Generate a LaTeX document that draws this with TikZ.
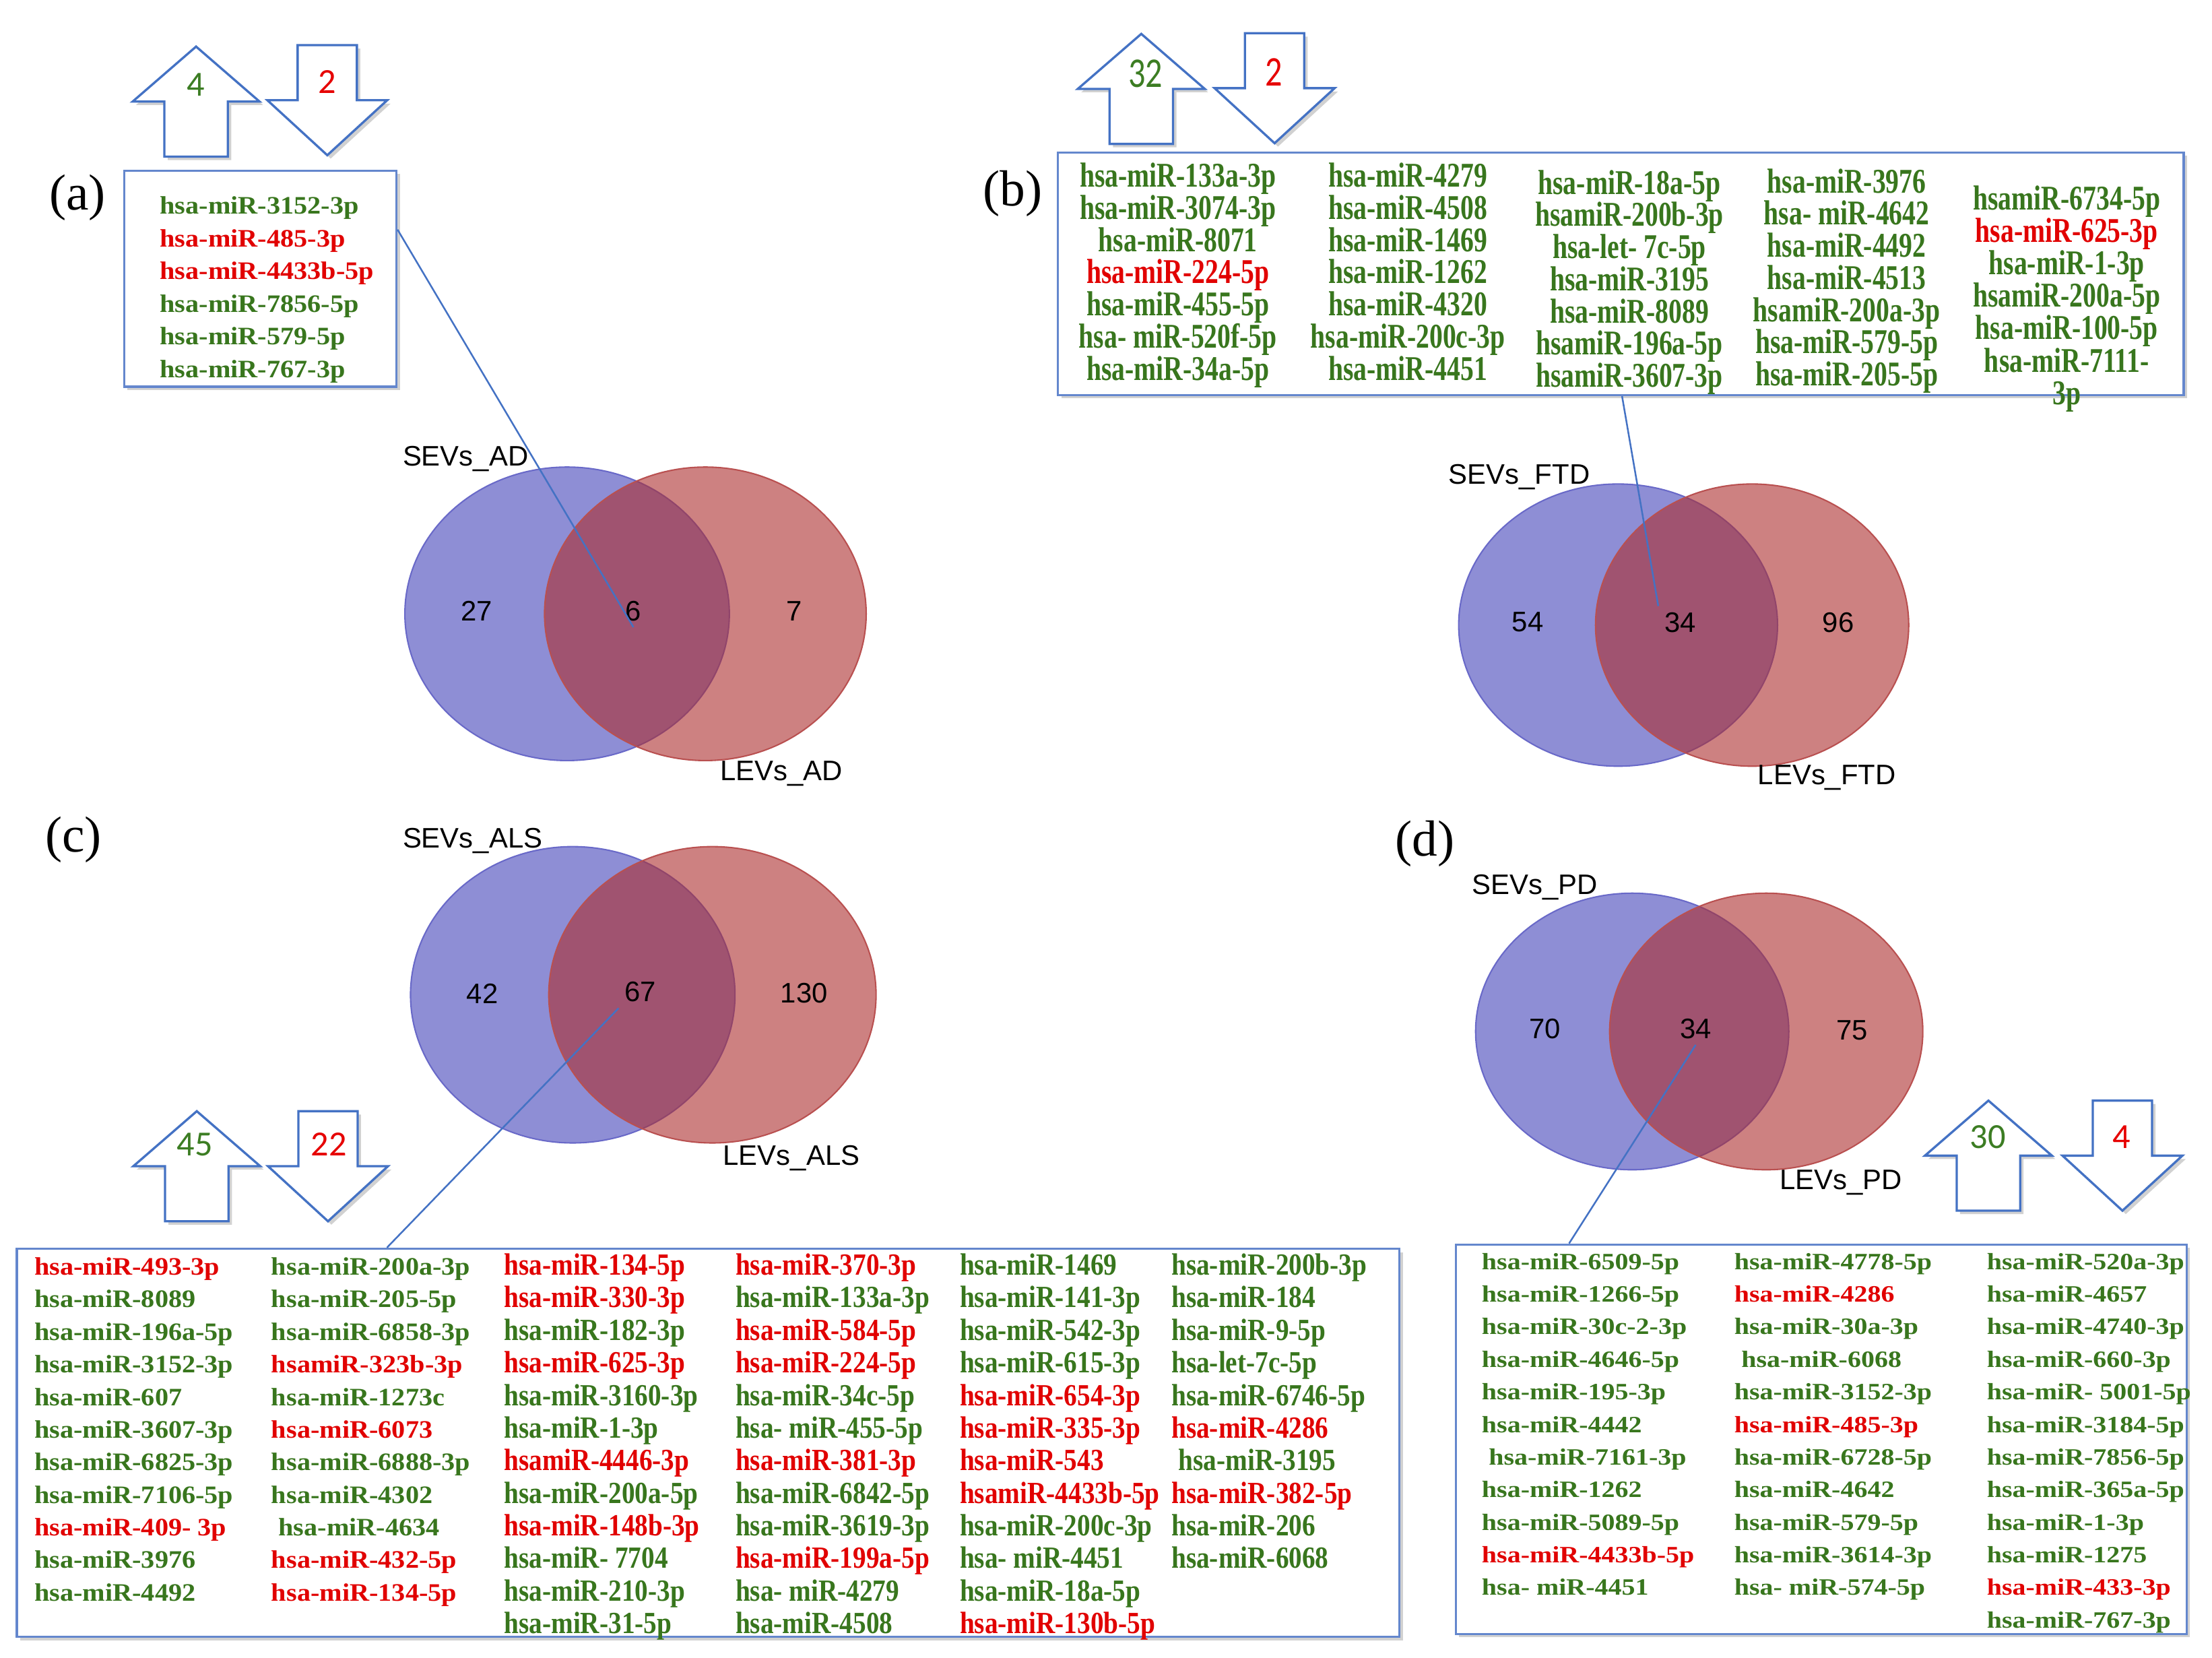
\documentclass[tikz,border=0pt]{standalone}
\usepackage{fontspec}
\setmainfont{Liberation Serif}
\newfontfamily\wideB[FakeStretch=1.08]{Liberation Serif}
\newfontfamily\condB[FakeStretch=0.86]{Liberation Serif}
\newfontfamily\narrB[FakeStretch=0.77]{Liberation Serif}
\newfontfamily\extB[FakeStretch=1.15]{Liberation Serif}
\newfontfamily\vennF{Liberation Sans}
\newfontfamily\calF{Carlito}
\newfontfamily\calN[FakeStretch=0.8]{Carlito}
\usetikzlibrary{calc,fit,shadows}
\definecolor{g}{RGB}{56,118,29}
\definecolor{r}{RGB}{225,0,0}
\definecolor{numg}{RGB}{60,125,35}
\definecolor{numr}{RGB}{230,0,0}
\definecolor{lineblue}{RGB}{68,114,196}
\definecolor{boxblue}{RGB}{100,135,205}
\definecolor{vblue}{RGB}{142,142,213}
\definecolor{vblueline}{RGB}{105,105,200}
\definecolor{vred}{RGB}{172,45,45}
\definecolor{vredline}{RGB}{185,80,80}
\tikzset{
  shd/.style={drop shadow={shadow xshift=1.2pt, shadow yshift=-1.2pt, opacity=0.18, fill=black}},
  arrowline/.style={draw=lineblue, line width=0.8pt, fill=white, line join=miter, shd},
  uparr/.pic={\path[arrowline] (0,0) -- (45,39) -- (22.5,39) -- (22.5,78) -- (-22.5,78) -- (-22.5,39) -- (-45,39) -- cycle;},
  dnarr/.pic={\path[arrowline] (-21,0) -- (21,0) -- (21,39) -- (42.5,39) -- (0,78) -- (-42.5,39) -- (-21,39) -- cycle;},
  listbox/.style={draw=boxblue, line width=0.8pt, fill=white, inner sep=0pt, shd},
  conn/.style={draw=lineblue, line width=0.6pt},
  plabel/.style={inner sep=0pt, font=\fontsize{18}{20}\selectfont},
  vlabel/.style={inner sep=0pt, font=\vennF\fontsize{10}{12}\selectfont},
  vnum/.style={inner sep=2pt, font=\vennF\fontsize{10}{12}\selectfont},
  upnum/.style={inner sep=0pt, text=numg, font=\calF\fontsize{12.5}{14}\selectfont},
  dnnum/.style={inner sep=0pt, text=numr, font=\calF\fontsize{12.5}{14}\selectfont},
  upnumB/.style={inner sep=0pt, text=numg, font=\calN\fontsize{15}{17}\selectfont},
  dnnumB/.style={inner sep=0pt, text=numr, font=\calN\fontsize{15}{17}\selectfont},
  mirA/.style={anchor=mid west, inner sep=0pt, font=\wideB\bfseries\fontsize{8.9}{10}\selectfont},
  mirB/.style={anchor=mid, inner sep=0pt, font=\narrB\bfseries\fontsize{12.3}{13}\selectfont},
  mirC/.style={anchor=mid west, inner sep=0pt, font=\condB\bfseries\fontsize{10.9}{12}\selectfont},
  mirD/.style={anchor=mid west, inner sep=0pt, font=\extB\bfseries\fontsize{8.3}{9}\selectfont},
}
\begin{document}
\begin{tikzpicture}[x=0.5pt,y=-0.5pt]
\useasboundingbox (0,0) rectangle (1568,1175);
\fill[white] (0,0) rectangle (1568,1175);

% ---------------- panel labels
\node[plabel] (la) at (55,140) {(a)};
\node[plabel] (lb) at (718,137) {(b)};
\node[plabel] (lc) at (52,595) {(c)};
\node[plabel] (ld) at (1010,598) {(d)};

% ---------------- Venn diagrams
% (a)
\fill[vblue] (402,435) ellipse [x radius=57.5pt, y radius=52pt];
\draw[vblueline, line width=0.5pt] (402,435) ellipse [x radius=57.5pt, y radius=52pt];
\fill[vred, opacity=0.6] (500,435) ellipse [x radius=57pt, y radius=52pt];
\draw[vredline, line width=0.5pt] (500,435) ellipse [x radius=57pt, y radius=52pt];
% (b)
\fill[vblue] (1147,443) ellipse [x radius=56.5pt, y radius=50pt];
\draw[vblueline, line width=0.5pt] (1147,443) ellipse [x radius=56.5pt, y radius=50pt];
\fill[vred, opacity=0.6] (1242,443) ellipse [x radius=55.5pt, y radius=50pt];
\draw[vredline, line width=0.5pt] (1242,443) ellipse [x radius=55.5pt, y radius=50pt];
% (c)
\fill[vblue] (406,705) ellipse [x radius=57.5pt, y radius=52.5pt];
\draw[vblueline, line width=0.5pt] (406,705) ellipse [x radius=57.5pt, y radius=52.5pt];
\fill[vred, opacity=0.6] (505,705) ellipse [x radius=58pt, y radius=52.5pt];
\draw[vredline, line width=0.5pt] (505,705) ellipse [x radius=58pt, y radius=52.5pt];
% (d)
\fill[vblue] (1157,731) ellipse [x radius=55.5pt, y radius=49pt];
\draw[vblueline, line width=0.5pt] (1157,731) ellipse [x radius=55.5pt, y radius=49pt];
\fill[vred, opacity=0.6] (1252,731) ellipse [x radius=55.5pt, y radius=49pt];
\draw[vredline, line width=0.5pt] (1252,731) ellipse [x radius=55.5pt, y radius=49pt];

% Venn labels and counts
\node[vlabel] (sa) at (330,325) {SEVs\_AD};
\node[vlabel] (lea) at (554,548) {LEVs\_AD};
\node[vnum] (a27) at (338,433) {27};
\node[vnum] (a6) at (449,433) {6};
\node[vnum] (a7) at (563,433) {7};

\node[vlabel] (sb) at (1077,338) {SEVs\_FTD};
\node[vlabel] (leb) at (1295,551) {LEVs\_FTD};
\node[vnum] (b54) at (1083,441) {54};
\node[vnum] (b34) at (1191,441) {34};
\node[vnum] (b96) at (1303,441) {96};

\node[vlabel] (sc) at (335,596) {SEVs\_ALS};
\node[vlabel] (lec) at (561,821) {LEVs\_ALS};
\node[vnum] (c42) at (342,704) {42};
\node[vnum] (c67) at (454,703) {67};
\node[vnum] (c130) at (570,704) {130};

\node[vlabel] (sd) at (1088,629) {SEVs\_PD};
\node[vlabel] (led) at (1305,838) {LEVs\_PD};
\node[vnum] (d70) at (1095,729) {70};
\node[vnum] (d34) at (1202,729) {34};
\node[vnum] (d75) at (1313,730) {75};

% ---------------- list boxes
\node[listbox, fit={(88,121) (281,274)}] (boxA) {};
\node[listbox, fit={(750,108) (1548,280)}] (boxB) {};
\node[listbox, fit={(12,885) (992,1160)}] (boxC) {};
\node[listbox, fit={(1032,882) (1550,1158)}] (boxD) {};

% ---------------- connectors
\draw[conn] ($(boxA.north east)!0.275!(boxA.south east)$) -- (a6.south);
\draw[conn] ($(boxB.south west)!0.501!(boxB.south east)$) -- (b34.north west);
\draw[conn] ($(boxC.north west)!0.268!(boxC.north east)$) -- (c67.south west);
\draw[conn] ($(boxD.north west)!0.156!(boxD.north east)$) -- (d34.south);

% ---------------- (a) list
\foreach \c/\t [count=\i] in {g/hsa-miR-3152-3p, r/hsa-miR-485-3p, r/hsa-miR-4433b-5p, g/hsa-miR-7856-5p, g/hsa-miR-579-5p, g/hsa-miR-767-3p}
  \node[mirA, text=\c] (a-\i) at (113,{147+23.2*(\i-1)}) {\t};

% ---------------- (b) lists
\foreach \c/\t [count=\i] in {g/hsa-miR-133a-3p, g/hsa-miR-3074-3p, g/hsa-miR-8071, r/hsa-miR-224-5p, g/hsa-miR-455-5p, g/hsa- miR-520f-5p, g/hsa-miR-34a-5p}
  \node[mirB, text=\c] (b1-\i) at (835,{128+22.8*(\i-1)}) {\t};
\foreach \c/\t [count=\i] in {g/hsa-miR-4279, g/hsa-miR-4508, g/hsa-miR-1469, g/hsa-miR-1262, g/hsa-miR-4320, g/hsa-miR-200c-3p, g/hsa-miR-4451}
  \node[mirB, text=\c] (b2-\i) at (998,{128+22.8*(\i-1)}) {\t};
\foreach \c/\t [count=\i] in {g/hsa-miR-18a-5p, g/hsamiR-200b-3p, g/hsa-let- 7c-5p, g/hsa-miR-3195, g/hsa-miR-8089, g/hsamiR-196a-5p, g/hsamiR-3607-3p}
  \node[mirB, text=\c] (b3-\i) at (1155,{133+22.8*(\i-1)}) {\t};
\foreach \c/\t [count=\i] in {g/hsa-miR-3976, g/hsa- miR-4642, g/hsa-miR-4492, g/hsa-miR-4513, g/hsamiR-200a-3p, g/hsa-miR-579-5p, g/hsa-miR-205-5p}
  \node[mirB, text=\c] (b4-\i) at (1309,{132+22.8*(\i-1)}) {\t};
\foreach \c/\t [count=\i] in {g/hsamiR-6734-5p, r/hsa-miR-625-3p, g/hsa-miR-1-3p, g/hsamiR-200a-5p, g/hsa-miR-100-5p, g/hsa-miR-7111-, g/3p}
  \node[mirB, text=\c] (b5-\i) at (1465,{144+23*(\i-1)}) {\t};

% ---------------- (c) lists
\foreach \c/\t [count=\i] in {r/hsa-miR-493-3p, g/hsa-miR-8089, g/hsa-miR-196a-5p, g/hsa-miR-3152-3p, g/hsa-miR-607, g/hsa-miR-3607-3p, g/hsa-miR-6825-3p, g/hsa-miR-7106-5p, r/hsa-miR-409- 3p, g/hsa-miR-3976, g/hsa-miR-4492}
  \node[mirA, text=\c] (c1-\i) at (24,{899+23.1*(\i-1)}) {\t};
\foreach \c/\t [count=\i] in {g/hsa-miR-200a-3p, g/hsa-miR-205-5p, g/hsa-miR-6858-3p, r/hsamiR-323b-3p, g/hsa-miR-1273c, r/hsa-miR-6073, g/hsa-miR-6888-3p, g/hsa-miR-4302, g/\hspace*{2.5pt}hsa-miR-4634, r/hsa-miR-432-5p, r/hsa-miR-134-5p}
  \node[mirA, text=\c] (c2-\i) at (192,{899+23.1*(\i-1)}) {\t};
\foreach \c/\t [count=\i] in {r/hsa-miR-134-5p, r/hsa-miR-330-3p, g/hsa-miR-182-3p, r/hsa-miR-625-3p, g/hsa-miR-3160-3p, g/hsa-miR-1-3p, r/hsamiR-4446-3p, g/hsa-miR-200a-5p, r/hsa-miR-148b-3p, g/hsa-miR- 7704, g/hsa-miR-210-3p, g/hsa-miR-31-5p}
  \node[mirC, text=\c] (c3-\i) at (357,{899+23.1*(\i-1)}) {\t};
\foreach \c/\t [count=\i] in {r/hsa-miR-370-3p, g/hsa-miR-133a-3p, r/hsa-miR-584-5p, r/hsa-miR-224-5p, g/hsa-miR-34c-5p, g/hsa- miR-455-5p, r/hsa-miR-381-3p, g/hsa-miR-6842-5p, g/hsa-miR-3619-3p, r/hsa-miR-199a-5p, g/hsa- miR-4279, g/hsa-miR-4508}
  \node[mirC, text=\c] (c4-\i) at (521,{899+23.1*(\i-1)}) {\t};
\foreach \c/\t [count=\i] in {g/hsa-miR-1469, g/hsa-miR-141-3p, g/hsa-miR-542-3p, g/hsa-miR-615-3p, r/hsa-miR-654-3p, r/hsa-miR-335-3p, r/hsa-miR-543, r/hsamiR-4433b-5p, g/hsa-miR-200c-3p, g/hsa- miR-4451, g/hsa-miR-18a-5p, r/hsa-miR-130b-5p}
  \node[mirC, text=\c] (c5-\i) at (680,{899+23.1*(\i-1)}) {\t};
\foreach \c/\t [count=\i] in {g/hsa-miR-200b-3p, g/hsa-miR-184, g/hsa-miR-9-5p, g/hsa-let-7c-5p, g/hsa-miR-6746-5p, r/hsa-miR-4286, g/\hspace*{2.5pt}hsa-miR-3195, r/hsa-miR-382-5p, g/hsa-miR-206, g/hsa-miR-6068}
  \node[mirC, text=\c] (c6-\i) at (830,{899+23.1*(\i-1)}) {\t};

% ---------------- (d) lists
\foreach \c/\t [count=\i] in {g/hsa-miR-6509-5p, g/hsa-miR-1266-5p, g/hsa-miR-30c-2-3p, g/hsa-miR-4646-5p, g/hsa-miR-195-3p, g/hsa-miR-4442, g/\hspace*{2.5pt}hsa-miR-7161-3p, g/hsa-miR-1262, g/hsa-miR-5089-5p, r/hsa-miR-4433b-5p, g/hsa- miR-4451}
  \node[mirD, text=\c] (d1-\i) at (1050,{895+23.1*(\i-1)}) {\t};
\foreach \c/\t [count=\i] in {g/hsa-miR-4778-5p, r/hsa-miR-4286, g/hsa-miR-30a-3p, g/\hspace*{2.5pt}hsa-miR-6068, g/hsa-miR-3152-3p, r/hsa-miR-485-3p, g/hsa-miR-6728-5p, g/hsa-miR-4642, g/hsa-miR-579-5p, g/hsa-miR-3614-3p, g/hsa- miR-574-5p}
  \node[mirD, text=\c] (d2-\i) at (1229,{895+23.1*(\i-1)}) {\t};
\foreach \c/\t [count=\i] in {g/hsa-miR-520a-3p, g/hsa-miR-4657, g/hsa-miR-4740-3p, g/hsa-miR-660-3p, g/hsa-miR- 5001-5p, g/hsa-miR-3184-5p, g/hsa-miR-7856-5p, g/hsa-miR-365a-5p, g/hsa-miR-1-3p, g/hsa-miR-1275, r/hsa-miR-433-3p, g/hsa-miR-767-3p}
  \node[mirD, text=\c] (d3-\i) at (1408,{895+23.1*(\i-1)}) {\t};

% ---------------- up / down arrows
\pic at (139,33) {uparr};
\pic at (232,32) {dnarr};
\node[upnum] (aup) at (139,60) {4};
\node[dnnum] (adn) at (232,58) {2};

\pic at (809,24) {uparr};
\pic at (903.5,23.5) {dnarr};
\node[upnumB] (bup) at (812,52) {32};
\node[dnnumB] (bdn) at (903,51) {2};

\pic at (139.5,787.5) {uparr};
\pic at (232.5,787.5) {dnarr};
\node[upnum] (cup) at (138,811) {45};
\node[dnnum] (cdn) at (233,811) {22};

\pic at (1409.5,780) {uparr};
\pic at (1504.5,780) {dnarr};
\node[upnum] (dup) at (1409,806) {30};
\node[dnnum] (ddn) at (1504,806) {4};
\end{tikzpicture}
\end{document}
